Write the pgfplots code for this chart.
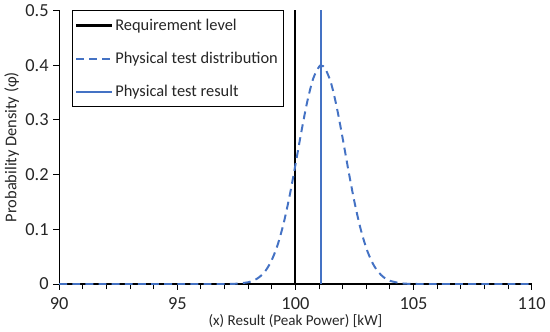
\documentclass[border=0pt]{standalone}
\usepackage{pgfplots}
\pgfplotsset{compat=1.18}
\usepackage{fontspec}
\setmainfont{Carlito}
\definecolor{xlblue}{HTML}{4472C4}
\begin{document}
\begin{tikzpicture}
\begin{axis}[
  scale only axis,
  width=360pt, height=208.5pt,
  xmin=90, xmax=110, ymin=0, ymax=0.5,
  axis x line*=bottom, axis y line*=left,
  axis line style={-, line width=0.9pt},
  xtick={90,95,100,105,110},
  minor xtick={91,...,109},
  ytick={0,0.1,0.2,0.3,0.4,0.5},
  yticklabels={0,0.1,0.2,0.3,0.4,0.5},
  xtick pos=bottom, ytick pos=left,
  tick align=outside,
  major tick length=4.5pt, minor tick length=4pt,
  tick style={black, line width=0.8pt},
  minor tick style={black, line width=0.8pt},
  /pgf/number format/assume math mode=true,
  ticklabel style={font=\fontsize{14}{16}\selectfont, color=black!85},
  xticklabel style={yshift=-2pt},
  xlabel={(x) Result (Peak Power) [kW]},
  ylabel={Probability Density (ɸ)},
  xlabel style={font=\fontsize{11.5}{13}\selectfont, color=black!85, yshift=3pt},
  ylabel style={font=\fontsize{12.5}{14}\selectfont, color=black!85, yshift=-2pt},
  legend style={at={(0.027,1.0)}, anchor=north west, draw=black, line width=0.8pt,
    font=\fontsize{12.5}{14}\selectfont, text=black!85, row sep=11pt, inner ysep=4pt, inner xsep=2pt},
  legend cell align=left,
  legend image code/.code={\draw[#1] (0cm,0cm) -- (0.95cm,0cm);},
]
\addplot[black, line width=1.6pt] coordinates {(100,0) (100,0.5)};
\addlegendentry{Requirement level}
\addplot[xlblue, line width=1.5pt, dash pattern=on 6pt off 4pt, smooth] coordinates {
(90,0) (92,0) (94,0) (96,0) (97,0.00009) (97.5,0.00061) (98,0.00327) (98.25,0.00687)
(98.5,0.01358) (98.75,0.02522) (99,0.04398) (99.25,0.07206) (99.5,0.1109)
(99.75,0.1604) (100,0.2179) (100.25,0.2780) (100.5,0.3332) (100.75,0.3752)
(101,0.3970) (101.1,0.3989) (101.25,0.3945) (101.5,0.3683) (101.75,0.3230)
(102,0.2661) (102.25,0.2059) (102.5,0.1497) (102.75,0.1023) (103,0.06562)
(103.25,0.03956) (103.5,0.02239) (103.75,0.01191) (104,0.00595) (104.5,0.00123)
(105,0.0002) (105.5,0.00002) (106,0) (108,0) (110,0)};
\addlegendentry{Physical test distribution}
\addplot[xlblue, line width=1.6pt] coordinates {(101.1,0) (101.1,0.5)};
\addlegendentry{Physical test result}
\end{axis}
\end{tikzpicture}
\end{document}
